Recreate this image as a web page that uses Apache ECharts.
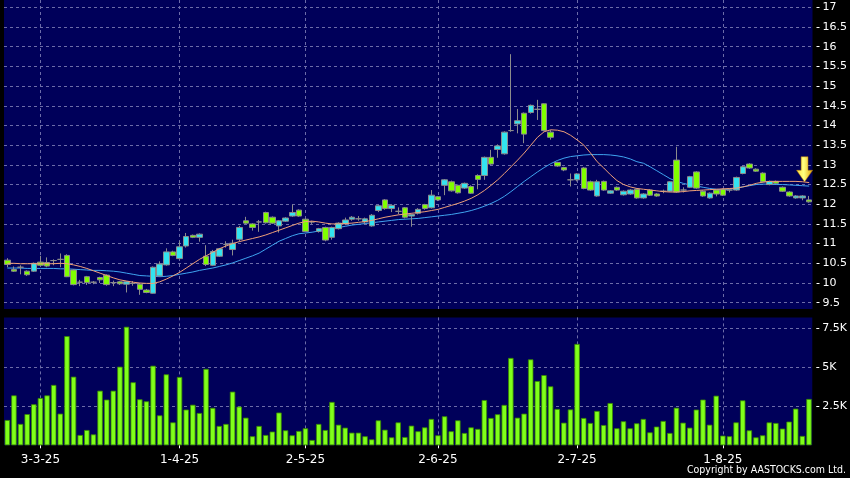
<!DOCTYPE html>
<html><head><meta charset="utf-8">
<script src="https://cdn.jsdelivr.net/npm/echarts@6/dist/echarts.min.js"></script>
<style>html,body{margin:0;padding:0;background:#000;}#c{width:850px;height:478px;}</style>
</head><body><div id="c"></div>
<script>
const dates = [
"24-2-25","25-2-25","26-2-25","27-2-25","28-2-25",
"3-3-25","4-3-25","5-3-25","6-3-25","7-3-25","10-3-25","11-3-25","12-3-25","13-3-25","14-3-25","17-3-25","18-3-25","19-3-25","20-3-25","21-3-25","24-3-25","25-3-25","26-3-25","27-3-25","28-3-25","31-3-25",
"1-4-25","2-4-25","3-4-25","7-4-25","8-4-25","9-4-25","10-4-25","11-4-25","14-4-25","15-4-25","16-4-25","17-4-25","22-4-25","23-4-25","24-4-25","25-4-25","28-4-25","29-4-25","30-4-25",
"2-5-25","6-5-25","7-5-25","8-5-25","9-5-25","12-5-25","13-5-25","14-5-25","15-5-25","16-5-25","19-5-25","20-5-25","21-5-25","22-5-25","23-5-25","26-5-25","27-5-25","28-5-25","29-5-25","30-5-25",
"2-6-25","3-6-25","4-6-25","5-6-25","6-6-25","9-6-25","10-6-25","11-6-25","12-6-25","13-6-25","16-6-25","17-6-25","18-6-25","19-6-25","20-6-25","23-6-25","24-6-25","25-6-25","26-6-25","27-6-25","30-6-25",
"2-7-25","3-7-25","4-7-25","7-7-25","8-7-25","9-7-25","10-7-25","11-7-25","14-7-25","15-7-25","16-7-25","17-7-25","18-7-25","21-7-25","22-7-25","23-7-25","24-7-25","25-7-25","28-7-25","29-7-25","30-7-25","31-7-25",
"1-8-25","4-8-25","5-8-25","6-8-25","7-8-25","8-8-25","11-8-25","12-8-25","13-8-25","14-8-25","15-8-25","18-8-25","19-8-25","20-8-25"];

const opens = [
10.58,10.34,10.40,10.30,10.30,10.53,10.52,10.57,10.60,10.70,
10.33,10.02,10.16,10.02,10.14,10.20,10.01,10.03,9.97,9.99,
9.97,9.82,9.74,10.18,10.46,10.79,10.62,10.94,11.21,11.16,
10.68,10.45,10.68,10.98,10.85,11.11,11.58,11.50,11.55,11.79,
11.67,11.45,11.57,11.70,11.85,11.62,11.55,11.31,11.41,11.16,
11.38,11.50,11.62,11.63,11.55,11.45,11.84,12.11,11.89,11.82,
11.91,11.70,11.77,11.99,11.91,12.19,12.48,12.57,12.48,12.41,
12.45,12.73,12.73,13.19,13.39,13.28,13.87,14.04,14.31,14.33,
14.41,14.55,13.83,13.06,12.93,12.62,12.62,12.92,12.57,12.21,
12.58,12.28,12.43,12.24,12.26,12.38,12.16,12.36,12.26,12.33,
12.33,13.12,12.36,12.43,12.82,12.33,12.16,12.36,12.38,12.36,
12.36,12.78,13.02,12.89,12.79,12.50,12.58,12.43,12.31,12.16,12.16,12.11];
const closes = [
10.47,10.30,10.40,10.21,10.50,10.45,10.43,10.57,10.60,10.16,
9.96,10.02,10.01,10.02,10.08,9.96,10.01,9.98,10.03,9.99,
9.84,9.76,10.40,10.48,10.79,10.70,10.92,11.18,11.16,11.24,
10.47,10.80,10.87,10.98,11.01,11.41,11.52,11.41,11.55,11.53,
11.52,11.58,11.65,11.79,11.70,11.31,11.55,11.38,11.09,11.41,
11.52,11.60,11.67,11.63,11.63,11.72,11.96,11.89,11.97,11.82,
11.67,11.74,11.87,11.89,12.23,12.11,12.62,12.34,12.29,12.53,
12.28,12.63,13.19,13.02,13.48,13.83,13.87,14.12,13.78,14.51,
14.41,13.87,13.70,12.97,12.87,12.62,12.77,12.40,12.36,12.57,
12.36,12.34,12.36,12.33,12.36,12.16,12.26,12.23,12.21,12.33,
12.57,12.31,12.36,12.70,12.41,12.21,12.28,12.26,12.23,12.36,
12.68,12.95,12.92,12.84,12.57,12.58,12.53,12.33,12.21,12.21,12.21,12.06];
const lows = [
10.40,10.28,10.22,10.18,10.28,10.42,10.40,10.45,10.40,10.15,
9.94,9.92,9.95,9.97,10.00,9.93,9.92,9.95,9.76,9.93,
9.70,9.74,9.73,10.16,10.44,10.68,10.60,10.90,11.14,11.05,
10.43,10.43,10.66,10.90,10.70,11.06,11.50,11.33,11.30,11.51,
11.50,11.28,11.55,11.68,11.68,11.29,11.50,11.28,11.06,11.10,
11.36,11.47,11.58,11.58,11.50,11.43,11.80,11.86,11.80,11.75,
11.64,11.43,11.74,11.86,11.89,12.08,12.23,12.32,12.27,12.39,
12.26,12.38,12.62,13.00,13.18,13.26,13.84,13.80,13.55,14.30,
14.14,13.85,13.64,12.95,12.84,12.45,12.58,12.38,12.34,12.19,
12.34,12.26,12.34,12.22,12.24,12.14,12.14,12.21,12.19,12.28,
12.31,12.29,12.30,12.41,12.39,12.19,12.14,12.20,12.21,12.30,
12.34,12.76,12.90,12.82,12.55,12.48,12.51,12.31,12.19,12.14,12.10,12.04];
const highs = [
10.63,10.42,10.45,10.32,10.52,10.69,10.65,10.60,10.75,10.73,
10.35,10.08,10.18,10.05,10.16,10.22,10.06,10.05,10.05,10.05,
10.00,9.85,10.42,10.55,10.88,10.82,11.06,11.27,11.23,11.26,
10.96,10.84,10.89,11.06,11.10,11.45,11.68,11.52,11.60,11.81,
11.69,11.60,11.67,11.99,11.87,11.64,11.58,11.40,11.43,11.43,
11.54,11.66,11.70,11.70,11.66,11.75,11.98,12.13,12.00,11.92,
11.93,11.76,11.90,12.01,12.36,12.21,12.64,12.60,12.50,12.55,
12.48,12.76,13.21,13.38,13.52,13.85,15.81,14.42,14.33,14.53,
14.65,14.56,13.88,13.08,12.95,12.78,12.79,12.94,12.60,12.62,
12.60,12.36,12.45,12.35,12.38,12.40,12.28,12.38,12.28,12.37,
12.59,13.46,12.43,12.72,12.84,12.35,12.30,12.38,12.40,12.40,
12.70,12.97,13.04,12.91,12.81,12.60,12.60,12.45,12.33,12.23,12.23,12.21];
const maFast = [
10.50,10.50,10.49,10.49,10.49,10.49,10.49,10.49,10.50,10.49,
10.46,10.42,10.37,10.31,10.25,10.19,10.13,10.08,10.05,10.02,
10.00,9.99,9.99,10.03,10.10,10.18,10.27,10.38,10.49,10.60,
10.69,10.78,10.87,10.94,11.00,11.05,11.09,11.13,11.17,11.22,
11.28,11.34,11.40,11.46,11.52,11.56,11.57,11.55,11.52,11.50,
11.50,11.51,11.52,11.54,11.56,11.59,11.63,11.67,11.70,11.73,
11.75,11.77,11.79,11.81,11.84,11.87,11.92,11.97,12.02,12.08,
12.15,12.24,12.35,12.48,12.62,12.78,12.95,13.12,13.30,13.50,
13.70,13.84,13.89,13.88,13.84,13.75,13.63,13.50,13.30,13.08,
12.92,12.75,12.60,12.50,12.44,12.40,12.38,12.36,12.34,12.32,
12.31,12.31,12.32,12.34,12.35,12.36,12.37,12.38,12.39,12.40,
12.41,12.44,12.48,12.53,12.56,12.58,12.58,12.58,12.58,12.58,12.57,12.55];
const maSlow = [
10.38,10.38,10.38,10.37,10.37,10.37,10.37,10.37,10.36,10.36,
10.35,10.34,10.33,10.32,10.32,10.31,10.30,10.28,10.25,10.22,
10.19,10.18,10.17,10.16,10.17,10.19,10.22,10.25,10.28,10.32,
10.35,10.38,10.42,10.46,10.51,10.57,10.63,10.69,10.76,10.86,
10.96,11.06,11.13,11.20,11.25,11.27,11.29,11.32,11.35,11.38,
11.41,11.44,11.47,11.49,11.51,11.53,11.55,11.57,11.59,11.61,
11.62,11.63,11.64,11.66,11.68,11.70,11.72,11.74,11.77,11.80,
11.84,11.89,11.95,12.02,12.10,12.20,12.32,12.45,12.58,12.70,
12.82,12.93,13.03,13.11,13.17,13.21,13.23,13.25,13.26,13.26,
13.26,13.25,13.23,13.20,13.15,13.08,13.04,12.95,12.85,12.75,
12.65,12.58,12.53,12.49,12.46,12.43,12.40,12.38,12.37,12.38,
12.41,12.44,12.47,12.50,12.51,12.51,12.50,12.50,12.49,12.48,12.47,12.46];
const volumes = [
1.62,3.2,1.37,2.0,2.63,3.03,3.2,3.87,2.03,7.0,
4.4,0.66,0.98,0.7,3.5,2.93,3.5,5.04,7.6,4.04,
2.95,2.82,5.1,1.92,4.55,1.47,4.38,2.29,2.6,2.07,
4.9,2.4,1.24,1.37,3.44,2.48,1.77,0.58,1.24,0.66,
0.88,2.1,0.96,0.64,0.92,1.09,0.34,1.37,0.98,2.78,
1.32,1.13,0.81,0.81,0.58,0.38,1.6,1.0,0.51,1.47,
0.53,1.26,0.9,1.15,1.69,0.64,1.86,0.9,1.6,0.79,
1.15,1.05,2.9,1.75,1.99,2.59,5.6,1.77,2.03,5.51,
4.12,4.5,3.78,2.33,1.45,2.3,6.5,1.75,1.43,2.2,
1.3,2.71,1.09,1.54,1.09,1.41,1.69,0.83,1.2,1.56,
0.79,2.41,1.45,1.13,2.29,2.93,1.32,3.18,0.62,0.58,
1.47,2.88,0.96,0.51,0.64,1.47,1.43,1.07,1.52,2.35,0.6,2.97];
const copyright = 'Copyright by AASTOCKS.com Ltd.';

const FONT = '"DejaVu Sans", sans-serif';
const NARROW = '"DejaVu Sans Condensed", "Liberation Sans Narrow", sans-serif';
const monthOf = d => d.split('-')[1];
const isMonthStart = i => i > 0 && monthOf(dates[i]) !== monthOf(dates[i - 1]);
const gridLine = { show: true, lineStyle: { color: '#6c6ca8', type: [3, 3], width: 1 } };
const panelBg = '#00005a';

const chart = echarts.init(document.getElementById('c'), null, { renderer: 'canvas' });
chart.setOption({
  animation: false,
  backgroundColor: '#000000',
  title: {
    text: copyright, right: 4, bottom: 2, padding: 0,
    textStyle: { color: '#ffffff', fontSize: 10.5, fontWeight: 'normal', fontFamily: NARROW }
  },
  grid: [
    { left: 4, right: 35, top: 0, height: 309, show: true, backgroundColor: panelBg, borderWidth: 0 },
    { left: 4, right: 35, top: 317.4, height: 127.9, show: true, backgroundColor: panelBg, borderWidth: 0 }
  ],
  xAxis: [
    { type: 'category', data: dates, gridIndex: 0, boundaryGap: true,
      axisLine: { show: false }, axisTick: { show: false }, axisLabel: { show: false },
      splitLine: Object.assign({ interval: (i) => isMonthStart(i), alignWithLabel: true }, gridLine) },
    { type: 'category', data: dates, gridIndex: 1, boundaryGap: true,
      axisLine: { show: false },
      axisTick: { show: true, alignWithLabel: true, interval: (i) => isMonthStart(i), length: 3, lineStyle: { color: '#ffffff' } },
      axisLabel: { interval: (i) => isMonthStart(i), color: '#ffffff', fontSize: 12, fontFamily: FONT, margin: 9 },
      splitLine: Object.assign({ interval: (i) => isMonthStart(i), alignWithLabel: true }, gridLine) }
  ],
  yAxis: [
    { type: 'value', gridIndex: 0, position: 'right', min: 9.34, max: 17.185, splitNumber: 16, offset: 4,
      axisLine: { show: false }, axisTick: { show: true, length: 3, lineStyle: { color: '#ffffff' } },
      axisLabel: { color: '#ffffff', fontSize: 11, fontFamily: FONT, margin: 6, showMinLabel: false, showMaxLabel: false },
      splitLine: Object.assign({ showMinLine: false, showMaxLine: false }, gridLine) },
    { type: 'value', gridIndex: 1, position: 'right', min: 0, max: 8.2, interval: 2.5, offset: 4,
      axisLine: { show: false }, axisTick: { show: true, length: 3, lineStyle: { color: '#ffffff' } },
      axisLabel: { color: '#ffffff', fontSize: 11, fontFamily: FONT, margin: 6, showMinLabel: false, showMaxLabel: false,
        formatter: v => v + 'K' },
      splitLine: Object.assign({ showMinLine: false, showMaxLine: false }, gridLine) }
  ],
  series: [
    { type: 'candlestick', xAxisIndex: 0, yAxisIndex: 0, barWidth: 6,
      data: dates.map((_, i) => [opens[i], closes[i], lows[i], highs[i]]),
      itemStyle: { color: '#33e4f0', color0: '#80ff00', borderColor: '#8c8c8c', borderColor0: '#8c8c8c', borderWidth: 1 } },
    { type: 'line', xAxisIndex: 0, yAxisIndex: 0, data: maFast, symbol: 'none',
      lineStyle: { color: '#f0a078', width: 1 }, z: 3,
      markPoint: {
        silent: true,
        data: [{
          coord: [dates[dates.length - 2], maFast[maFast.length - 2]],
          symbol: 'path://M4,0 L10,0 L10,13 L14,13 L7,24 L0,13 L4,13 Z',
          symbolSize: [16, 25], symbolOffset: [2, '-50%'],
          itemStyle: { color: new echarts.graphic.LinearGradient(0, 0, 1, 0, [
            { offset: 0, color: '#ffe040' }, { offset: 0.45, color: '#ffff80' }, { offset: 1, color: '#e0a000' }]),
            borderColor: '#c08000', borderWidth: 0.5 },
          label: { show: false }
        }]
      } },
    { type: 'line', xAxisIndex: 0, yAxisIndex: 0, data: maSlow, symbol: 'none',
      lineStyle: { color: '#3fa4f0', width: 1 }, z: 2 },
    { type: 'bar', xAxisIndex: 1, yAxisIndex: 1, data: volumes, barWidth: 5.4,
      itemStyle: { color: '#80ff1a', borderColor: '#3a8a00', borderWidth: 0.8 } }
  ]
});
</script></body></html>
